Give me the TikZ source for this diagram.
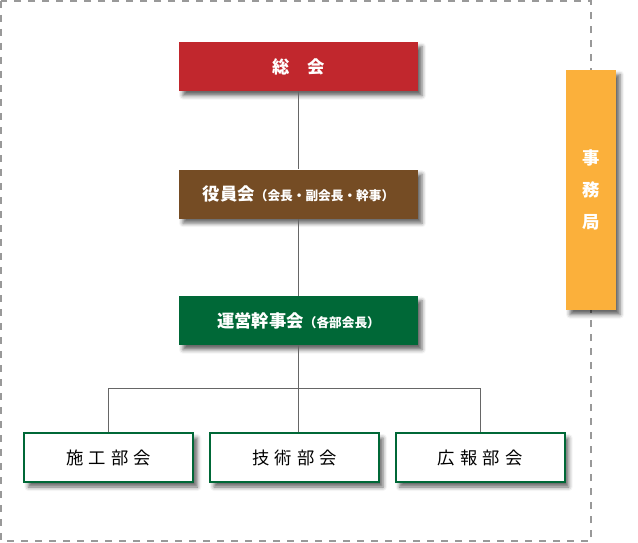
\documentclass[tikz,border=0pt]{standalone}
\usepackage{fontspec}
\setmainfont{Noto Sans CJK JP}
\usetikzlibrary{positioning,shadows.blur}
\definecolor{SoukaiRed}{HTML}{C1272D}
\definecolor{YakuinBrown}{HTML}{754C24}
\definecolor{UneiGreen}{HTML}{006837}
\definecolor{JimuOrange}{HTML}{FBB03B}
\definecolor{LineGray}{HTML}{666666}
\definecolor{FrameGray}{HTML}{999999}
\newcommand{\hosoku}[1]{{\fontsize{9.5pt}{11pt}\selectfont #1}}
\newcommand{\aki}{\hspace{0.3em}}
\tikzset{
  kagee/.style={blur shadow={shadow xshift=3pt, shadow yshift=-3.5pt,
    shadow blur radius=3pt, shadow opacity=60}},
  kaibox/.style={fill=#1, text=white, minimum width=179.25pt,
    minimum height=36.75pt, inner sep=0pt,
    font=\bfseries\fontsize{13pt}{15pt}\selectfont, kagee},
  bukaibox/.style={draw=UneiGreen, line width=1.5pt, fill=white,
    minimum width=126.75pt, minimum height=36.75pt, inner sep=0pt,
    font=\fontsize{13pt}{15pt}\selectfont, kagee},
  sen/.style={draw=LineGray, line width=0.75pt},
}

\begin{document}
\begin{tikzpicture}[x=0.75pt,y=-0.75pt]
  \useasboundingbox (0,0) rectangle (638,542);
  % outer frame
  \draw[FrameGray, line width=1.6pt, dash pattern=on 5.25pt off 5.25pt]
    (1,1) rectangle (591,541);

  \node[kaibox=SoukaiRed] (soukai) at (298.5,66.5) {総\hspace{1em}会};
  \node[kaibox=YakuinBrown, below=58.5pt of soukai]
    (yakuin) {役員会\hosoku{（会長・副会長・幹事）}};
  \node[kaibox=UneiGreen, below=57.75pt of yakuin]
    (unei) {運営幹事会\hosoku{（各部会長）}};

  % bukai
  \node[bukaibox, below=65.25pt of unei, xshift=-3pt] (gijutsu) {技\aki 術\aki 部\aki 会};
  \node[bukaibox, left=11pt of gijutsu] (sekou) {施\aki 工\aki 部\aki 会};
  \node[bukaibox, right=11pt of gijutsu] (kouhou) {広\aki 報\aki 部\aki 会};

  \node[fill=JimuOrange, text=white, minimum width=37.5pt, minimum height=180pt,
    inner sep=0pt, align=center, font=\bfseries\fontsize{13pt}{24pt}\selectfont, kagee]
    (jimu) at (591,190) {事\\務\\局};

  \coordinate[below=32.25pt of unei] (bunki);
  \draw[sen] (soukai) -- (yakuin);
  \draw[sen] (yakuin) -- (unei);
  \draw[sen] (unei) -- (bunki);
  \draw[sen] (sekou.north) |- (bunki) -| (kouhou.north);
  \draw[sen] (bunki) -- (bunki |- gijutsu.north);
\end{tikzpicture}
\end{document}
